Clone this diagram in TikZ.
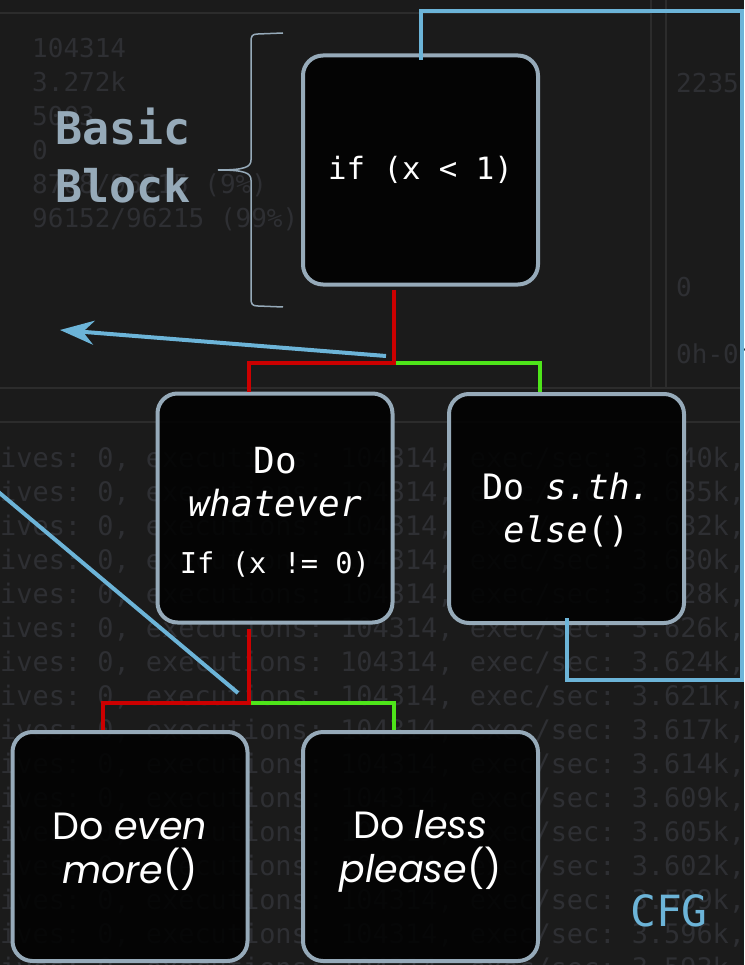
\documentclass[tikz,border=0pt]{standalone}
\usepackage{fontspec}
\setmainfont{Poppins}
\newfontfamily\codefont{DejaVu Sans Mono}
\usetikzlibrary{arrows.meta,calc}

\definecolor{bg}{HTML}{1B1B1B}
\definecolor{panelrule}{HTML}{2C2C2C}
\definecolor{ghost}{HTML}{2E2F33}
\definecolor{edgegray}{HTML}{96AAB9}
\definecolor{flowred}{HTML}{CC0000}
\definecolor{flowgreen}{HTML}{4EE51A}
\definecolor{loopblue}{HTML}{6CB4D8}

\tikzset{
  cfgbox/.style={draw=edgegray, line width=4pt, rounded corners=20pt,
    fill=black, fill opacity=0.85, text opacity=1, text=white,
    minimum width=235pt, minimum height=229pt, inner sep=0pt, align=center},
  codetext/.style={font=\codefont\fontsize{#1}{43}\selectfont},
  ghosttext/.style={text=ghost, inner sep=0pt, anchor=base west,
    font=\codefont\fontsize{#1}{#1}\selectfont\frenchspacing},
  redflow/.style={draw=flowred, line width=4pt},
  greenflow/.style={draw=flowgreen, line width=4pt},
  blueflow/.style={draw=loopblue, line width=4pt},
}

\begin{document}
\begin{tikzpicture}[x=1pt,y=-1pt]
  \fill[bg] (0,0) rectangle (744,965);
  \useasboundingbox (0,0) rectangle (744,965);
  \clip (0,0) rectangle (744,965);

  % panel separators of the terminal behind the graph
  \draw[panelrule, line width=2pt] (0,13) -- (651,13);
  \draw[panelrule, line width=1.5pt] (651,0) -- (651,388);
  \draw[panelrule, line width=1.5pt] (666,0) -- (666,388);
  \draw[panelrule, line width=2pt] (0,388) -- (744,388);
  \draw[panelrule, line width=1.5pt] (0,422) -- (744,422);

  % dim statistics in the upper panel
  \foreach \t [count=\i from 0] in {104314,3.272k,5003,0,8768/96215 (9\%),96152/96215 (99\%)}
    \node[ghosttext=26] (stat\i) at (32,58+34*\i) {\t};
  \node[ghosttext=26] (side0) at (676,93) {2235};
  \node[ghosttext=26] (side1) at (676,296) {0};
  \node[ghosttext=26] (side2) at (676,363) {0h-0m};

  % dim log lines in the lower panel
  \foreach \v [count=\i from 0] in {3.640k,3.635k,3.632k,3.630k,3.628k,3.626k,3.624k,3.621k,3.617k,3.614k,3.609k,3.605k,3.602k,3.599k,3.596k,3.593k}
    \node[ghosttext=26.9] (log\i) at (0,467+34*\i) {ives: 0, executions: 104314, exec/sec: \v,};

  % basic blocks
  \node[cfgbox, codetext=30.7] (n1) at (420.5,170) {if (x < 1)};
  \node[cfgbox, codetext=36] (n2) at (275,508)
    {\rule{0pt}{35pt}Do\\\textit{whatever}\\[14pt]{\fontsize{28.7}{30}\selectfont If (x != 0)}};
  \node[cfgbox, codetext=35] (n3) at (566.5,508.5)
    {\rule{0pt}{30pt}Do \textit{s.th.}\\\textit{else}()};
  \node[cfgbox, font=\fontsize{38}{44}\selectfont] (n4) at (130,846.5)
    {\rule{0pt}{38pt}Do \textit{even}\\\textit{more}()};
  \node[cfgbox, font=\fontsize{38}{44}\selectfont] (n5) at (420.5,846.5)
    {\rule{0pt}{38pt}Do \textit{less}\\\textit{please}()};

  % branches: red = taken, green = fall-through
  \coordinate (j1) at ($(n1.south)+(-26.5,76)$);
  \coordinate (j2) at ($(n2.south)+(-26,78)$);
  \draw[greenflow] (j1) -| ($(n3.north)+(-26.5,0)$);
  \draw[redflow] ($(n1.south)+(-26.5,3)$) -- (j1) -| ($(n2.north)+(-26,0)$);
  \draw[greenflow] (j2) -| ($(n5.north)+(-26.5,0)$);
  \draw[redflow] ($(n2.south)+(-26,4)$) -- (j2) -| ($(n4.north)+(-27,0)$);

  % back edge of the loop
  \coordinate (loopbot) at (742,680);
  \coordinate (looptop) at (742,11);
  \draw[blueflow] ($(n3.south)+(0,-7)$) |- (loopbot) -- (looptop) -| ($(n1.north)+(0,7)$);

  % pointer lines
  \coordinate (arrS) at (386,356);
  \coordinate (arrT) at (60,330);
  \draw[blueflow, -{Stealth[length=34pt,width=24pt,inset=11pt]}] (arrS) -- (arrT);
  \coordinate (diagA) at (-4,490);
  \coordinate (diagB) at (238,693);
  \draw[blueflow] (diagA) -- (diagB);

  % brace and its label
  \draw[edgegray, line width=1.5pt] (283,33) -- (258,34) .. controls (252,34) and (251,36) .. (251,42)
    -- (251,160) .. controls (251,167) and (245,170) .. (218,170)
    .. controls (245,170) and (251,173) .. (251,180)
    -- (251,298) .. controls (251,304) and (252,306) .. (258,306) -- (283,307);
  \node[text=edgegray, inner sep=0pt, anchor=base west,
        font=\codefont\bfseries\fontsize{45}{45}\selectfont] (bb1) at (55,145) {Basic};
  \node[text=edgegray, inner sep=0pt, anchor=base west,
        font=\codefont\bfseries\fontsize{45}{45}\selectfont] (bb2) at (55,203) {Block};

  \node[text=loopblue, inner sep=0pt, anchor=base west,
        font=\codefont\fontsize{43}{43}\selectfont] (cfg) at (630,926) {CFG};
\end{tikzpicture}
\end{document}
